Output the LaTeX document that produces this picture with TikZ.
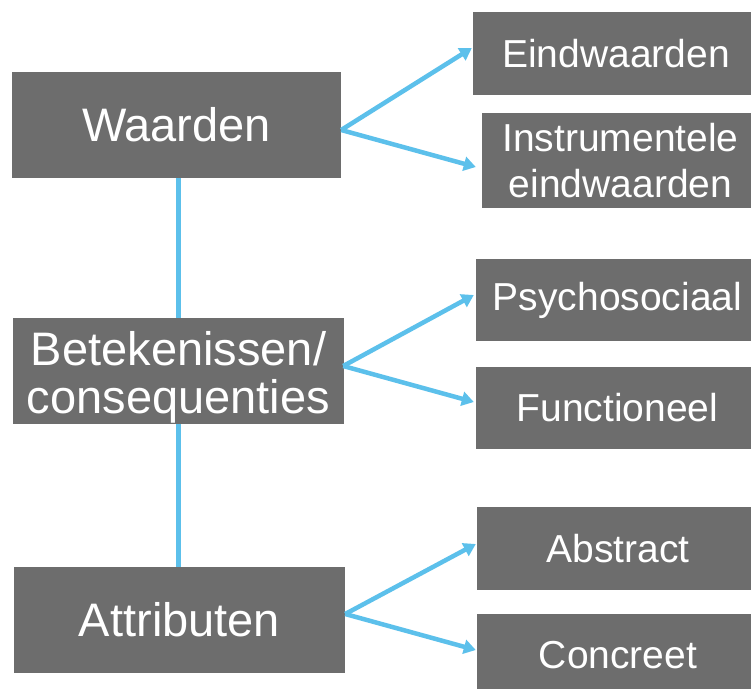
\documentclass[tikz,border=0pt]{standalone}
\usepackage{fontspec}
\setmainfont{Liberation Sans}
\usetikzlibrary{arrows.meta,calc}
\definecolor{boxgray}{RGB}{109,109,109}
\definecolor{linkblue}{RGB}{92,192,235}
\begin{document}
\begin{tikzpicture}[x=1pt,y=-1pt,
  box/.style={fill=boxgray,text=white,inner sep=0pt,align=center,anchor=center},
  bigbox/.style={box,font=\fontsize{47}{48}\selectfont},
  smallbox/.style={box,font=\fontsize{39}{46}\selectfont},
  link/.style={draw=linkblue,line width=4.5pt},
  arr/.style={link,-{Triangle[length=12pt,width=14pt]}}]
\useasboundingbox (0,0) rectangle (751,688);
\clip (0,0) rectangle (751,688);
\fill[white] (0,0) rectangle (751,688);

% left column
\node[bigbox,minimum width=329pt,minimum height=106pt] (w) at (176.5,125) {Waarden};
\node[bigbox,minimum width=331pt,minimum height=106pt] (b) at (178.5,371) {\raisebox{6pt}[0pt][0pt]{\begin{tabular}[t]{@{}c@{}}Betekenissen/\\consequenties\end{tabular}}};
\node[bigbox,minimum width=331pt,minimum height=106pt] (a) at (179.5,620) {Attributen};

% right column
\node[smallbox,minimum width=286pt,minimum height=83pt] (e1) at (616,53.5) {Eindwaarden};
\node[smallbox,minimum width=277pt,minimum height=95pt] (i1) at (620.5,160.5) {Instrumentele\\eindwaarden};
\node[smallbox,minimum width=283pt,minimum height=82pt] (p1) at (617.5,300) {Psychosociaal};
\node[smallbox,minimum width=283pt,minimum height=82pt] (f1) at (617.5,408) {Functioneel};
\node[smallbox,minimum width=282pt,minimum height=83pt] (a1) at (618,548.5) {Abstract};
\node[smallbox,minimum width=282pt,minimum height=83pt] (c1) at (618,655.5) {Concreet};

% vertical links
\draw[link] (b.north) -- (b.north |- w.south);
\draw[link] (b.south) -- (b.south |- a.north);

% arrows
\draw[arr] ($(w.east)+(0,5)$) -- ($(e1.west)+(-1,-5.5)$);
\draw[arr] ($(w.east)+(0,5)$) -- ($(i1.west)+(-6,6.5)$);
\draw[arr] ($(b.east)+(-1,-5)$) -- ($(p1.west)+(-2,-5)$);
\draw[arr] ($(b.east)+(-1,-5)$) -- ($(f1.west)+(-2,-6)$);
\draw[arr] ($(a.east)+(0,-6)$) -- ($(a1.west)+(-1,-4.5)$);
\draw[arr] ($(a.east)+(0,-6)$) -- ($(c1.west)+(-1,-5.5)$);
\end{tikzpicture}
\end{document}
